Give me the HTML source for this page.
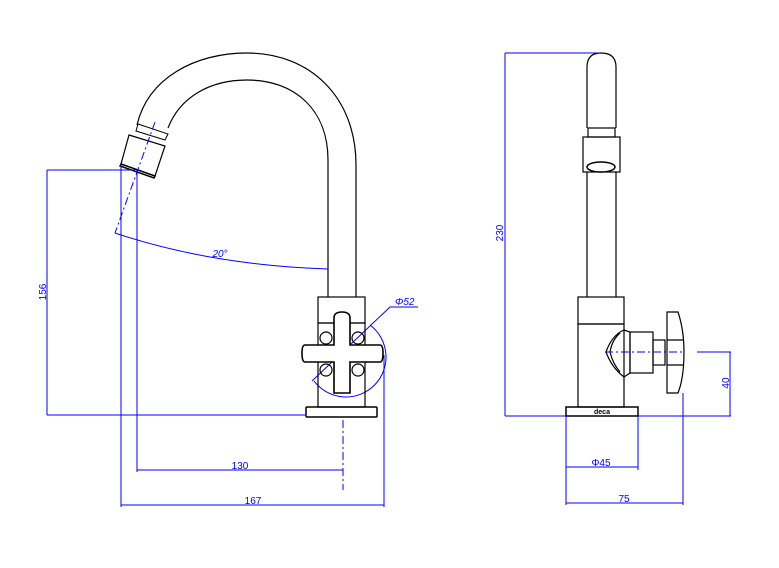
<!DOCTYPE html>
<html><head><style>body{margin:0;background:#fff}svg{display:block}</style></head><body>
<svg width="779" height="568" viewBox="0 0 779 568" xmlns="http://www.w3.org/2000/svg" font-family="Liberation Sans, sans-serif">
<g fill="none" stroke="#00f" stroke-width="1">
<path d="M370,325 A40,40 0 1,1 314,381"/>
<path d="M312,381 L390,307 L418,307"/>
</g>
<g fill="none" stroke="#000" stroke-width="1.2">
<path d="M137,125 C148,78 195,53 247,53 C310,53 356,97 356,165 L356,297"/>
<path d="M168,128 C180,97 210,80 247,80 C295,80 328,110 328,160 L328,297"/>
<path d="M138,124 L168,134 L165,140 L136,131 Z" stroke-width="1"/>
<path d="M129,135 L165,146 L155,176 L121,164 Z"/>
<path d="M121,164 L155,176 L154,178 L120,166 Z" stroke-width="1.5"/>
<rect x="318" y="297" width="47" height="26"/>
<rect x="318" y="323" width="47" height="84"/>
<rect x="306" y="407" width="71" height="10" rx="1" stroke-width="1.5"/>
<circle cx="326" cy="338" r="6"/><circle cx="358" cy="338" r="6"/><circle cx="326" cy="370" r="6"/><circle cx="358" cy="370" r="6"/>
<path d="M334,318 Q334,312 342,312 Q350,312 350,318 L350,345 L380,345 Q383,345 383,353 Q383,362 380,362 L350,362 L350,393 L334,393 L334,362 L305,362 Q302,362 302,353 Q302,345 305,345 L334,345 Z" fill="#fff" stroke-width="1.6"/>
<path d="M587,128 L587,67 Q587,53 601,53 Q616,53 616,67 L616,128"/>
<rect x="588" y="128" width="27" height="9"/>
<rect x="583" y="137" width="37" height="35"/>
<ellipse cx="601" cy="167" rx="14" ry="5" stroke-width="1.5"/>
<line x1="587" y1="172" x2="587" y2="297"/><line x1="616" y1="172" x2="616" y2="297"/>
<rect x="578" y="297" width="46" height="27"/>
<rect x="578" y="324" width="46" height="83"/>
<path d="M624,330 L630,332 L630,373 L624,377 M624,330 Q612,335 606,352 Q612,368 624,377 M620,333 Q612,340 610,352 Q613,364 620,372"/>
<rect x="630" y="332" width="23" height="41"/>
<rect x="653" y="340" width="12" height="25"/>
<path d="M667,312 L678,312 Q684,330 684,352 Q684,378 678,393 L667,393 Z"/>
<path d="M667,340 L684,340 M667,365 L684,365"/>
<rect x="566" y="407" width="72" height="9" stroke-width="1.5"/>
</g>
<text x="602" y="414" font-size="7" font-weight="bold" text-anchor="middle">deca</text>
<g fill="none" stroke="#00f" stroke-width="1">
<line x1="47" y1="170" x2="135" y2="170"/><line x1="47" y1="170" x2="47" y2="415"/><line x1="47" y1="415" x2="306" y2="415"/>
<line x1="121" y1="164" x2="121" y2="507"/><line x1="137" y1="170" x2="137" y2="472"/>
<line x1="137" y1="470" x2="343" y2="470"/><line x1="121" y1="505" x2="384" y2="505"/>
<line x1="384" y1="355" x2="384" y2="507"/>
<line x1="343" y1="420" x2="343" y2="490" stroke-dasharray="8,3,2,3"/>
<line x1="155" y1="122" x2="115" y2="233" stroke-dasharray="8,3,2,3"/>
<path d="M115,233 Q210,265 328,269"/>
<line x1="505" y1="53" x2="600" y2="53"/><line x1="505" y1="53" x2="505" y2="416"/>
<line x1="505" y1="416" x2="566" y2="416"/><line x1="638" y1="416" x2="731" y2="416"/>
<line x1="730" y1="352" x2="730" y2="416"/><line x1="697" y1="352" x2="731" y2="352"/>
<line x1="605" y1="352" x2="682" y2="352" stroke-dasharray="8,3,2,3"/>
<line x1="566" y1="416" x2="566" y2="505"/><line x1="638" y1="416" x2="638" y2="470"/>
<line x1="683" y1="393" x2="683" y2="505"/>
<line x1="566" y1="467" x2="638" y2="467"/><line x1="566" y1="503" x2="683" y2="503"/>
</g>
<g fill="#00f" font-size="10">
<text x="240" y="469" text-anchor="middle">130</text>
<text x="253" y="504" text-anchor="middle">167</text>
<text x="220" y="257" text-anchor="middle" font-style="italic">20°</text>
<text x="395" y="305" font-style="italic">Φ52</text>
<text transform="translate(46,292) rotate(-90)" text-anchor="middle">156</text>
<text transform="translate(503,233) rotate(-90)" text-anchor="middle">230</text>
<text transform="translate(729,383) rotate(-90)" text-anchor="middle">40</text>
<text x="601" y="466" text-anchor="middle">Φ45</text>
<text x="624" y="502" text-anchor="middle">75</text>
</g>
</svg>
</body></html>
